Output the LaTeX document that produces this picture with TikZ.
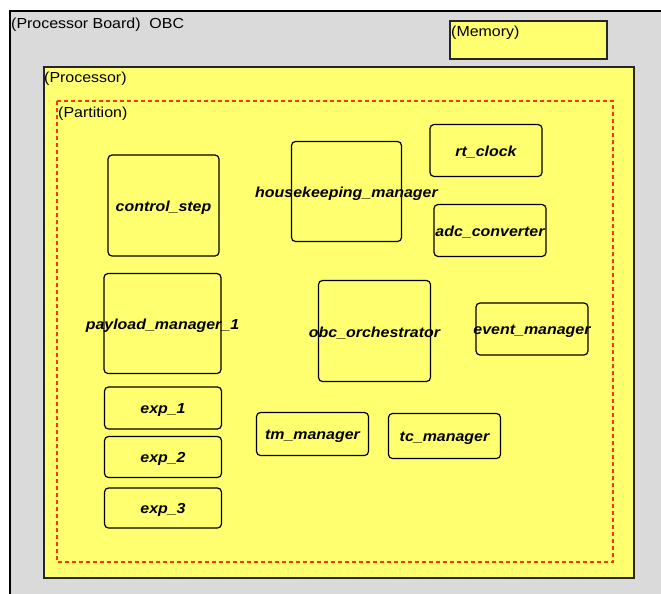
\documentclass[tikz,border=0pt]{standalone}
\usepackage{fontspec}
\setmainfont{Liberation Sans}[FakeStretch=1.1]
\begin{document}
\begin{tikzpicture}[x=1pt,y=-1pt,
  lbl/.style={anchor=west,inner sep=0pt,font=\fontsize{14.5}{16}\selectfont},
  comp/.style={draw=black,line width=1.2pt,rounded corners=4pt,inner sep=0pt},
  ctext/.style={inner sep=0pt,yshift=-2pt,font=\fontsize{14.5}{16}\selectfont\bfseries\itshape},
]
\definecolor{boardgrey}{RGB}{218,218,218}
\definecolor{yel}{RGB}{255,255,112}
\definecolor{partred}{RGB}{255,50,0}
\useasboundingbox (0,0) rectangle (661,594);
\clip (0,0) rectangle (661,594);
\fill[white] (0,0) rectangle (661,594);
% board
\draw[line width=1.8pt,fill=boardgrey] (10,11) rectangle (680,610);
\node[lbl] (boardlbl) at (11,25) {(Processor Board)\ \ OBC};
% memory
\draw[line width=1.2pt,draw=black!85,fill=yel] (450,21) rectangle (607,59);
\node[lbl] (memlbl) at (451,33) {(Memory)};
% processor
\draw[line width=1.2pt,draw=black!85,fill=yel] (44,67) rectangle (634,578);
\node[lbl] (proclbl) at (44,79) {(Processor)};
% partition
\draw[partred,line width=1.3pt,dash pattern=on 4pt off 3pt] (57,101) rectangle (613,562);
\node[lbl] (partlbl) at (58,114) {(Partition)};
% components
\node[comp,minimum width=111pt,minimum height=101pt] (cs) at (163.5,205.5) {};
\node[ctext] (cst) at (cs.center) {control\_step};
\node[comp,minimum width=110pt,minimum height=100pt] (hk) at (346.5,191.5) {};
\node[ctext] (hkt) at (hk.center) {housekeeping\_manager};
\node[comp,minimum width=112pt,minimum height=52pt] (rt) at (486,150.5) {};
\node[ctext] (rtt) at (rt.center) {rt\_clock};
\node[comp,minimum width=112pt,minimum height=52pt] (adc) at (490,230.5) {};
\node[ctext] (adct) at (adc.center) {adc\_converter};
\node[comp,minimum width=117pt,minimum height=100pt] (pm) at (162.5,323.5) {};
\node[ctext] (pmt) at (pm.center) {payload\_manager\_1};
\node[comp,minimum width=112pt,minimum height=101pt] (oo) at (374.5,331) {};
\node[ctext] (oot) at (oo.center) {obc\_orchestrator};
\node[comp,minimum width=112pt,minimum height=52pt] (em) at (532,329) {};
\node[ctext] (emt) at (em.center) {event\_manager};
\node[comp,minimum width=117pt,minimum height=42pt] (e1) at (163,408) {};
\node[ctext] (e1t) at (e1.center) {exp\_1};
\node[comp,minimum width=117pt,minimum height=41pt] (e2) at (163,457) {};
\node[ctext] (e2t) at (e2.center) {exp\_2};
\node[comp,minimum width=117pt,minimum height=40pt] (e3) at (163,508) {};
\node[ctext] (e3t) at (e3.center) {exp\_3};
\node[comp,minimum width=112pt,minimum height=43pt] (tm) at (312.5,434) {};
\node[ctext] (tmt) at (tm.center) {tm\_manager};
\node[comp,minimum width=112pt,minimum height=45pt] (tc) at (444.5,436) {};
\node[ctext] (tct) at (tc.center) {tc\_manager};
\end{tikzpicture}
\end{document}
